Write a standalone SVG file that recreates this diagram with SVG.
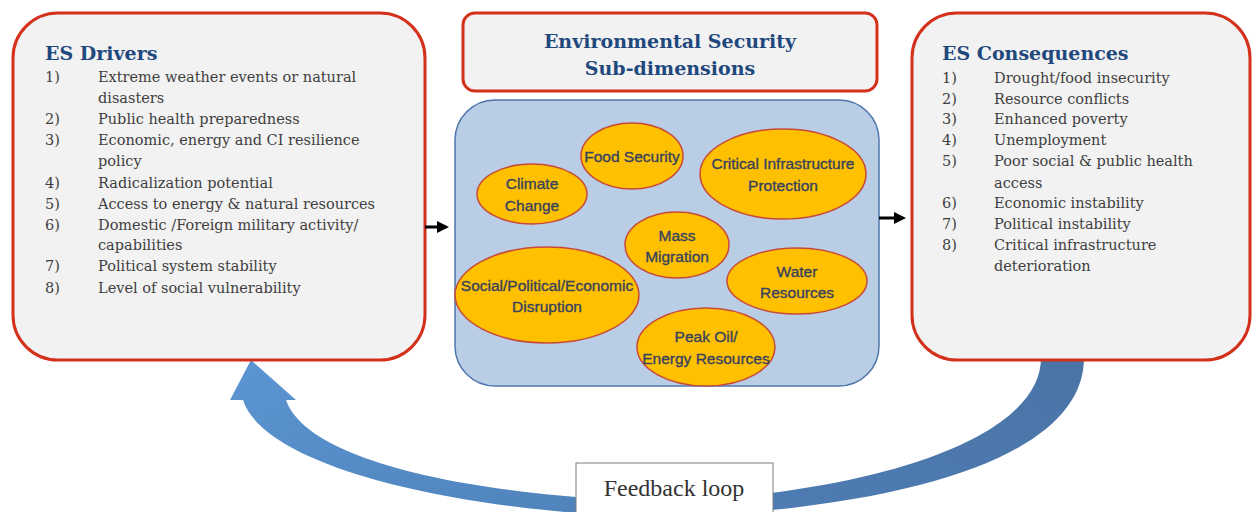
<svg xmlns="http://www.w3.org/2000/svg" width="1253" height="512" viewBox="0 0 1253 512">
<style>
.box{fill:#f2f2f2;stroke:#d4311c;stroke-width:3}
.ttl{font-family:"DejaVu Serif","Liberation Serif",serif;font-weight:bold;font-size:19px;fill:#1f497d}
.itm{font-family:"DejaVu Serif","Liberation Serif",serif;font-size:14.5px;fill:#404040}
.ell{fill:#ffc000;stroke:#c8493a;stroke-width:1.5}
.et{font-family:"Liberation Sans",Arial,sans-serif;font-size:15.5px;fill:#38435f;stroke:#38435f;stroke-width:0.35;text-anchor:middle}
.con{stroke:#000;stroke-width:3;fill:none}
</style>
<defs>
<marker id="ah" markerWidth="4" markerHeight="4" refX="3" refY="2" orient="auto" markerUnits="strokeWidth">
<path d="M0,0 L4,2 L0,4 Z" fill="#000"/>
</marker>
<linearGradient id="gl" x1="0" y1="0" x2="1" y2="1">
<stop offset="0" stop-color="#5b95d2"/>
<stop offset="1" stop-color="#4f82ba"/>
</linearGradient>
<linearGradient id="gr" x1="1" y1="0" x2="0" y2="1">
<stop offset="0" stop-color="#4a74a6"/>
<stop offset="1" stop-color="#4e7db4"/>
</linearGradient>
</defs>

<g id="feedback-arrows">
<path d="M 1041 358 L 1084 358 C 1084 440, 960 500, 700 516 L 700 500 C 900 486, 1041 432, 1041 358 Z" fill="url(#gr)"/>
<path d="M 243 400 L 230 400 L 251 360 L 296 400 L 286 400 C 305 455, 440 490, 620 500 L 620 516 C 420 505, 262 460, 243 400 Z" fill="url(#gl)"/>
</g>

<g id="es-drivers">
<rect class="box" x="13" y="13" width="412" height="347" rx="45"/>
<text class="ttl" x="45" y="60">ES Drivers</text>
<g class="itm">
<text x="45" y="82">1)</text><text x="98" y="82">Extreme weather events or natural</text>
<text x="98" y="103">disasters</text>
<text x="45" y="124">2)</text><text x="98" y="124">Public health preparedness</text>
<text x="45" y="145">3)</text><text x="98" y="145">Economic, energy and CI resilience</text>
<text x="98" y="166">policy</text>
<text x="45" y="188">4)</text><text x="98" y="188">Radicalization potential</text>
<text x="45" y="209">5)</text><text x="98" y="209">Access to energy &amp; natural resources</text>
<text x="45" y="230">6)</text><text x="98" y="230">Domestic /Foreign military  activity/</text>
<text x="98" y="250">capabilities</text>
<text x="45" y="271">7)</text><text x="98" y="271">Political system stability</text>
<text x="45" y="293">8)</text><text x="98" y="293">Level of social vulnerability</text>
</g>
</g>

<g id="es-subdimensions-title">
<rect class="box" x="463" y="13" width="414" height="78" rx="12"/>
<text class="ttl" x="670" y="48" text-anchor="middle">Environmental Security</text>
<text class="ttl" x="670" y="75" text-anchor="middle">Sub-dimensions</text>
</g>

<g id="es-subdimensions">
<rect x="455" y="100" width="424" height="286" rx="40" fill="#b9cde5" stroke="#4f76aa" stroke-width="1.5"/>
</g>

<g id="food-security">
<ellipse class="ell" cx="632" cy="156" rx="51" ry="33"/>
<text class="et" x="632" y="162">Food Security</text>
</g>
<g id="climate-change">
<ellipse class="ell" cx="532" cy="194" rx="55" ry="30"/>
<text class="et" x="532" y="189">Climate</text>
<text class="et" x="532" y="211">Change</text>
</g>
<g id="critical-infrastructure">
<ellipse class="ell" cx="783" cy="174" rx="83" ry="45"/>
<text class="et" x="783" y="169">Critical Infrastructure</text>
<text class="et" x="783" y="191">Protection</text>
</g>
<g id="mass-migration">
<ellipse class="ell" cx="677" cy="245" rx="52" ry="33"/>
<text class="et" x="677" y="241">Mass</text>
<text class="et" x="677" y="262">Migration</text>
</g>
<g id="social-disruption">
<ellipse class="ell" cx="547" cy="295" rx="92" ry="48"/>
<text class="et" x="547" y="291">Social/Political/Economic</text>
<text class="et" x="547" y="312">Disruption</text>
</g>
<g id="water-resources">
<ellipse class="ell" cx="797" cy="281" rx="70" ry="33"/>
<text class="et" x="797" y="277">Water</text>
<text class="et" x="797" y="298">Resources</text>
</g>
<g id="peak-oil">
<ellipse class="ell" cx="706" cy="347" rx="69" ry="39"/>
<text class="et" x="706" y="342">Peak Oil/</text>
<text class="et" x="706" y="364">Energy Resources</text>
</g>

<g id="es-consequences">
<rect class="box" x="912" y="13" width="338" height="347" rx="45"/>
<text class="ttl" x="942" y="60">ES Consequences</text>
<g class="itm">
<text x="942" y="83">1)</text><text x="994" y="83">Drought/food insecurity</text>
<text x="942" y="104">2)</text><text x="994" y="104">Resource conflicts</text>
<text x="942" y="124">3)</text><text x="994" y="124">Enhanced poverty</text>
<text x="942" y="145">4)</text><text x="994" y="145">Unemployment</text>
<text x="942" y="166">5)</text><text x="994" y="166">Poor social &amp; public health</text>
<text x="994" y="188">access</text>
<text x="942" y="208">6)</text><text x="994" y="208">Economic instability</text>
<text x="942" y="229">7)</text><text x="994" y="229">Political instability</text>
<text x="942" y="250">8)</text><text x="994" y="250">Critical infrastructure</text>
<text x="994" y="271">deterioration</text>
</g>
</g>

<g id="connectors">
<line class="con" x1="425" y1="227" x2="446" y2="227" marker-end="url(#ah)"/>
<line class="con" x1="879" y1="218" x2="903" y2="218" marker-end="url(#ah)"/>
</g>

<g id="feedback-loop">
<rect x="576" y="463" width="197" height="55" fill="#ffffff" stroke="#7f7f7f" stroke-width="1"/>
<text x="674" y="496" text-anchor="middle" font-family="Liberation Serif, serif" font-size="24" fill="#333333">Feedback loop</text>
</g>
</svg>
